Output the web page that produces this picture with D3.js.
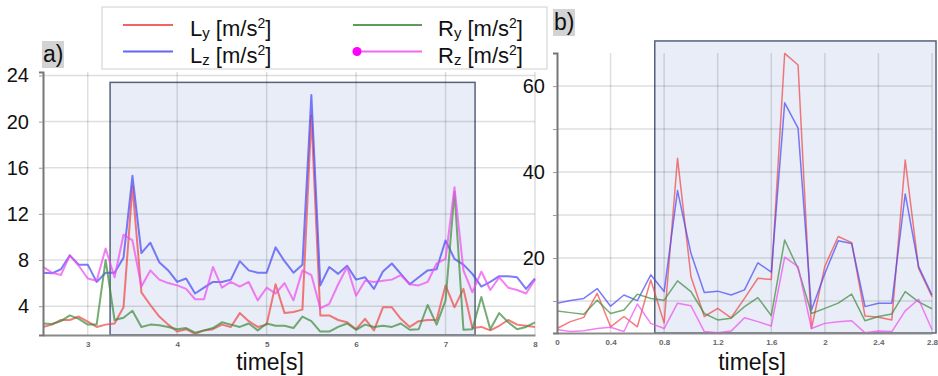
<!DOCTYPE html>
<html>
<head>
<meta charset="utf-8">
<script src="https://cdn.jsdelivr.net/npm/d3@7"></script>
<style>
  body { margin: 0; background: #fff; }
  svg { display: block; font-family: "Liberation Sans", Arial, sans-serif; }
</style>
</head>
<body>
<svg width="938" height="376"></svg>
<script>
// panel a) time axis and series
const timeA = [2.5,2.6,2.7,2.8,2.9,3.0,3.1,3.2,3.3,3.4,3.5,3.6,3.7,3.8,3.9,4.0,4.1,4.2,4.3,4.4,4.5,4.6,4.7,4.8,4.9,5.0,5.1,5.2,5.3,5.4,5.5,5.6,5.7,5.8,5.9,6.0,6.1,6.2,6.3,6.4,6.5,6.6,6.7,6.8,6.9,7.0,7.1,7.2,7.3,7.4,7.5,7.6,7.7,7.8,7.9,8.0];
const lyA = [2.2,2.4,2.8,2.8,3.1,2.65,2.2,2.4,2.5,3.9,14.4,5.2,4.1,3.1,2.4,1.8,2.0,1.6,1.9,2.0,2.4,2.2,3.4,2.7,2.2,2.4,5.9,3.4,3.5,3.7,20.5,3.2,3.2,2.8,2.6,2.0,2.9,1.9,3.9,3.9,2.9,2.2,2.7,2.8,2.8,5.8,3.9,5.5,2.1,2.2,1.9,2.3,2.8,2.4,2.3,2.2];
const lzA = [6.9,6.85,7.2,8.4,7.6,7.6,6.1,6.9,6.9,8.2,15.3,8.6,9.5,7.8,7.1,6.1,6.4,5.1,5.6,6.1,6.1,6.3,7.9,7.1,6.9,6.9,9.1,7.9,6.9,7.6,22.3,5.8,7.4,6.8,7.5,6.3,6.5,5.5,7.0,7.7,6.8,5.9,6.5,7.1,7.2,9.7,8.1,7.6,6.8,5.7,6.1,6.6,6.6,6.5,5.5,6.4];
const ryA = [2.5,2.45,2.7,3.2,2.9,2.4,2.4,8.0,2.8,3.0,3.6,2.2,2.4,2.35,2.2,2.0,2.1,1.7,1.9,2.1,2.6,2.4,2.2,2.5,1.9,2.5,2.3,2.3,2.1,3.1,2.7,1.8,1.8,2.2,2.5,1.95,2.4,2.2,2.3,2.2,2.5,1.95,2.0,4.1,2.4,4.5,13.9,1.95,2.0,4.8,2.0,3.4,2.6,2.0,2.2,2.6];
const rzA = [7.4,6.9,6.7,8.4,7.5,6.4,6.2,9.0,6.5,10.2,9.7,5.7,7.1,6.3,6.0,5.8,5.5,4.6,4.6,7.4,5.6,6.1,5.7,6.1,4.5,5.6,5.1,6.0,4.5,7.1,6.7,3.8,4.2,5.9,7.4,4.9,6.2,6.1,6.2,6.3,6.7,5.9,5.8,6.1,7.7,8.1,14.3,7.1,5.2,7.0,5.4,6.5,5.6,5.4,5.1,6.3];

// panel b) time axis and series
const timeB = [0,0.1,0.2,0.3,0.4,0.5,0.6,0.7,0.8,0.9,1.0,1.1,1.2,1.3,1.4,1.5,1.6,1.7,1.8,1.9,2.0,2.1,2.2,2.3,2.4,2.5,2.6,2.7,2.8];
const lyB = [3.6,5.2,6.2,11.8,4.0,6.4,4.0,14.9,4.9,43.2,15.7,6.4,8.3,6.1,10.6,15.3,15.0,67.6,64.9,3.6,18.1,25.0,23.6,6.5,6.2,5.6,42.8,17.6,11.0];
const lzB = [9.5,10.1,10.6,12.9,8.8,11.4,10.1,16.1,12.2,35.7,21.1,12.0,12.3,11.4,12.6,18.9,16.7,56.1,50.2,7.9,16.4,24.0,23.4,8.7,9.5,9.5,34.9,18.0,11.4];
const ryB = [7.7,7.3,6.9,10.2,7.1,7.9,11.6,10.6,10.2,14.7,12.2,7.1,5.6,6.0,8.7,10.8,6.6,24.2,17.5,7.1,8.3,9.5,11.6,5.4,6.4,7.0,12.2,9.8,8.2];
const rzB = [3.4,2.9,3.1,3.6,3.9,2.9,9.3,4.8,3.6,9.5,8.9,2.9,2.6,3.0,6.1,5.2,4.2,20.2,18.0,3.6,4.8,5.2,5.4,2.6,3.0,2.9,7.7,10.4,3.3];

// tick values
const xTicksA = [3,4,5,6,7,8];
const yTicksA = [4,8,12,16,20,24];
const xTicksB = [0,0.4,0.8,1.2,1.6,2,2.4,2.8];
const yTicksB = [10,20,30,40,50,60];

// highlighted windows [x0, x1, yTop] in data units
const windowA = [3.25, 7.33, 23.4];
const windowB = [0.73, 2.83, 70.5];

const seriesNames = ["L", "L", "R", "R"];
const seriesSubs = ["y", "z", "y", "z"];
const colors = ["#f04848", "#4a4af5", "#3f8c3f", "#f04cf0"];

const svg = d3.select("svg");

function panel(opt) {
  const x = d3.scaleLinear().domain(opt.xDom).range(opt.xRange);
  const y = d3.scaleLinear().domain(opt.yDom).range(opt.yRange);
  const g = svg.append("g");
  const [x0, x1] = opt.xRange;
  const [yb, yt] = opt.yRange;

  // highlight window
  g.append("rect")
    .attr("x", x(opt.win[0]))
    .attr("y", y(opt.win[2]))
    .attr("width", x(opt.win[1]) - x(opt.win[0]))
    .attr("height", yb - y(opt.win[2]))
    .attr("fill", "#e8edf7")
    .attr("stroke", "#55627c")
    .attr("stroke-width", 1.5);

  // grid
  g.selectAll(".hg").data(opt.yGrid).join("line")
    .attr("x1", x0).attr("x2", x1)
    .attr("y1", d => y(d)).attr("y2", d => y(d))
    .attr("stroke", "rgba(0,0,0,0.13)").attr("stroke-width", 1.5);
  g.selectAll(".vg").data(opt.xTicks.filter(d => d !== opt.xDom[0])).join("line")
    .attr("x1", d => x(d)).attr("x2", d => x(d))
    .attr("y1", yb).attr("y2", yt)
    .attr("stroke", "rgba(0,0,0,0.13)").attr("stroke-width", 1.5);

  // series
  const line = d3.line().x((d, i) => x(opt.t[i])).y(d => y(d));
  opt.series.forEach((s, k) => {
    g.append("path").datum(s)
      .attr("d", line)
      .attr("fill", "none")
      .attr("stroke", colors[k])
      .attr("stroke-width", opt.lw)
      .attr("stroke-opacity", 0.72)
      .attr("stroke-linejoin", "round");
  });

  // axes
  const ax = g.append("g").attr("transform", `translate(0,${yb})`)
    .call(d3.axisBottom(x).tickValues(opt.xTicks).tickSize(0).tickPadding(6)
      .tickFormat(d3.format("~g")));
  ax.select(".domain").attr("stroke", "#8a8a8a").attr("stroke-width", 2);
  ax.selectAll("text").attr("font-size", 8).attr("font-weight", "bold").attr("fill", "#666");

  const ay = g.append("g").attr("transform", `translate(${x0},0)`)
    .call(d3.axisLeft(y).tickValues(opt.yGrid).tickSize(4).tickPadding(opt.labPad)
      .tickFormat(d => opt.yTicks.includes(d) ? d : ""));
  ay.select(".domain").attr("stroke", "#777").attr("stroke-width", 2);
  ay.selectAll("line").attr("stroke", "#999");
  ay.selectAll("text").attr("font-size", 20).attr("fill", "#111");

  // axis title
  g.append("text")
    .attr("x", opt.titleX).attr("y", 370)
    .attr("text-anchor", "middle")
    .attr("font-size", 23).attr("fill", "#111")
    .text("time[s]");

  // panel letter
  g.append("rect")
    .attr("x", opt.letter[0]).attr("y", opt.letter[1])
    .attr("width", 22).attr("height", 27).attr("fill", "#d3d3d3");
  g.append("text")
    .attr("x", opt.letter[0] + 1).attr("y", opt.letter[1] + 21)
    .attr("font-size", 23).attr("fill", "#111")
    .text(opt.label);
}

panel({
  xDom: [2.5, 8], xRange: [43, 535],
  yDom: [1.5, 24.3], yRange: [335, 72],
  t: timeA, series: [lyA, lzA, ryA, rzA],
  xTicks: xTicksA, yGrid: yTicksA, yTicks: yTicksA,
  win: windowA, lw: 2, labPad: 10,
  titleX: 270, letter: [42, 41], label: "a)"
});

panel({
  xDom: [0, 2.8], xRange: [557, 932],
  yDom: [2.56, 67.7], yRange: [333, 53],
  t: timeB, series: [lyB, lzB, ryB, rzB],
  xTicks: xTicksB, yGrid: yTicksB, yTicks: [20, 40, 60],
  win: windowB, lw: 1.5, labPad: 8,
  titleX: 752, letter: [553, 9], label: "b)"
});

// legend
const leg = svg.append("g");
leg.append("rect")
  .attr("x", 102).attr("y", 7).attr("width", 445).attr("height", 62)
  .attr("fill", "#fff").attr("stroke", "#cfcfcf");

const legPos = [[123, 25], [123, 51.5], [353, 25], [353, 51.5]];
legPos.forEach(([lx, ly], k) => {
  leg.append("line")
    .attr("x1", lx).attr("x2", lx + (k < 2 ? 50 : 69))
    .attr("y1", ly).attr("y2", ly)
    .attr("stroke", colors[k]).attr("stroke-width", 2).attr("stroke-opacity", 0.85);
  if (k === 3) {
    leg.append("circle").attr("cx", lx + 4).attr("cy", ly).attr("r", 4.5).attr("fill", "#ff00ff");
  }
  const tx = leg.append("text")
    .attr("x", k < 2 ? 190 : 438).attr("y", ly + 11)
    .attr("font-size", 22).attr("fill", "#111");
  tx.append("tspan").text(seriesNames[k]);
  tx.append("tspan").attr("font-size", 15).attr("dy", 2).text(seriesSubs[k]);
  tx.append("tspan").attr("dy", -2).text(" [m/s");
  tx.append("tspan").attr("font-size", 14).attr("dy", -8).text("2");
  tx.append("tspan").attr("dy", 8).text("]");
});
</script>
</body>
</html>
